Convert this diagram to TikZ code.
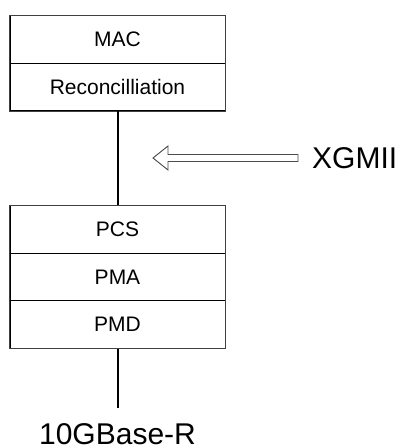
\documentclass[tikz,border=0pt]{standalone}
\usepackage{fontspec}
\setmainfont{Liberation Sans}
\begin{document}
\begin{tikzpicture}[x=1pt,y=1pt,
  layer/.style={draw=black, line width=1pt, minimum width=215pt, minimum height=47.5pt,
    inner sep=0pt, font=\fontsize{21}{25}\selectfont},
  frame/.style={draw=black!75, line width=1.4pt},
  link/.style={draw=black, line width=2pt},
  biglabel/.style={inner sep=0pt, font=\fontsize{30}{36}\selectfont},
  hollowarrow/.style={draw=black!70, line width=0.9pt, fill=white, line join=miter}]
\useasboundingbox (0,0) rectangle (404,446);

% upper stack
\node[layer] (mac) at (117.5,406.5) {MAC};
\node[layer] (rec) at (117.5,359) {Reconcilliation};
\draw[frame] (mac.north west) rectangle (rec.south east);

% lower stack
\node[layer] (pcs) at (117.5,216.5) {PCS};
\node[layer] (pma) at (117.5,169) {PMA};
\node[layer] (pmd) at (117.5,121.5) {PMD};
\draw[frame] (pcs.north west) rectangle (pmd.south east);

% interface between the stacks
\draw[link] (rec.south) -- (pcs.north);

% XGMII label with hollow arrow
\node[biglabel, anchor=west] (xgmii) at (312,288) {XGMII};
\coordinate (tip) at (153,288);
\draw[hollowarrow] (tip) -- ++(15,12) -- ++(0,-8.5) -- (298,291.5) -- (298,284.5)
  -- (168,284.5) -- (168,276) -- cycle;

% medium
\coordinate (mediumend) at (117.5,38);
\draw[link] (pmd.south) -- (mediumend);
\node[biglabel, anchor=base] (medium) at (117.5,1.2) {10GBase-R};
\end{tikzpicture}
\end{document}
